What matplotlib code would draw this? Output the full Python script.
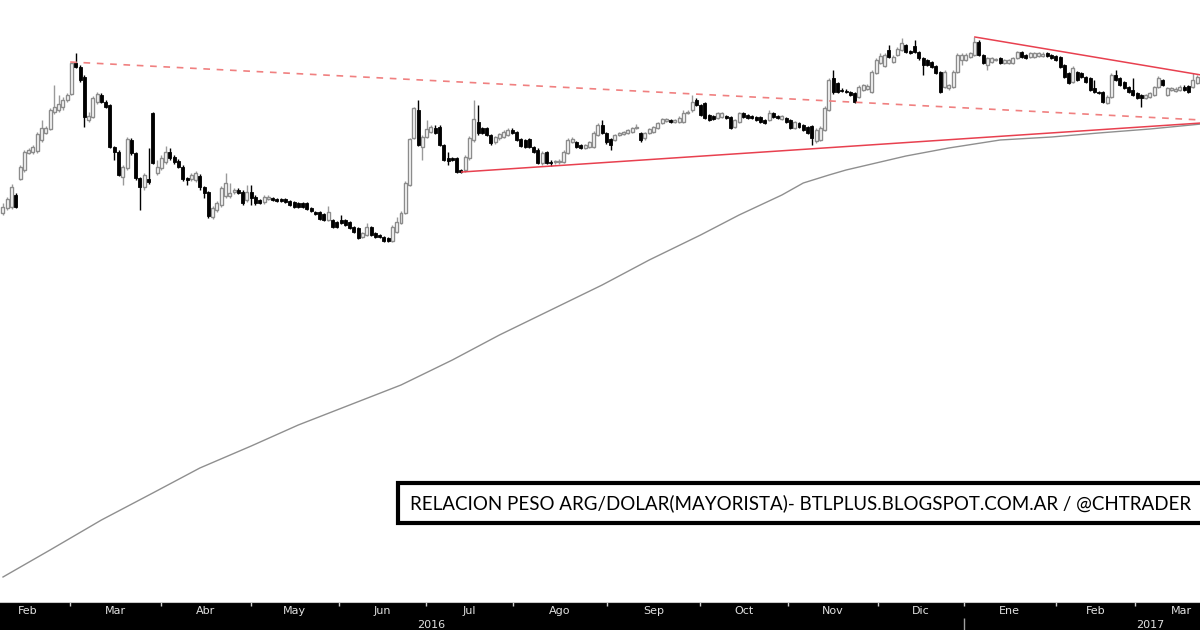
import matplotlib
matplotlib.use("Agg")
import matplotlib.pyplot as plt
from matplotlib.patches import Rectangle
import numpy as np

opens = [437,442,443,455,471,480,497,498,499,510,517,521,538,540,543,550,556,587,583,573,530,533,548,555,548,545,503,498,473,482,510,497,472,463,471,537,477,482,488,498,493,489,483,472,471,470,474,463,458,433,440,
445,454,454,458,460,458,450,458,453,450,448,451,452,451,451,451,449,448,447,447,447,442,438,438,436,430,430,428,430,430,428,423,422,413,415,423,417,415,413,412,409,418,427,437,465,512,540,503,513,518,522,523,505,492,492,492,
480,480,492,510,528,522,522,515,508,512,513,515,520,518,511,510,511,503,500,487,498,488,488,488,488,497,508,508,505,502,503,503,515,525,517,511,510,515,516,517,518,522,517,512,517,518,522,527,529,530,528,528,528,537,540,550,545,547,535,534,532,533,534,533,523,528,537,535,534,533,533,530,530,537,534,531,532,530,522,527,525,523,524,509,510,520,540,
572,567,560,559,558,557,553,560,561,558,577,587,584,600,588,595,600,605,599,604,598,592,590,588,584,578,563,562,563,578,590,590,593,595,608,595,585,588,590,592,587,587,587,592,598,595,593,593,594,594,597,595,594,593,585,577,568,578,577,573,572,562,558,558,547,553,575,572,568,563,560,557,555,552,553,555,563,570,555,560,559,560,563,564,563,567]
closes = [443,451,463,443,483,498,500,503,516,522,522,540,543,546,550,555,587,583,570,533,534,552,556,548,543,503,498,475,483,511,497,472,463,475,468,487,483,492,498,492,488,483,471,470,475,477,463,457,434,442,447,
462,467,457,460,457,447,458,452,447,447,453,453,450,449,449,448,445,443,443,443,441,439,436,431,430,438,423,423,427,425,422,418,412,417,423,415,413,413,409,409,423,428,437,467,511,542,505,513,521,523,517,505,490,489,490,478,
478,493,512,531,517,517,515,507,513,516,518,520,517,510,504,503,503,498,487,497,487,487,488.5,489,498,510,511,503,502,505,508,517,525,517,508,505,515,517,518,520,522,523,510,517,521,523,527,531,531,528,530,532,537,538,548,545,535,532,530,531,537,537,532,522,530,537,533,532,532,530,528,527,537,533,532,534,528,522,528,523,520,517,512,520,522,542,570,
558,558,559,558.5,555,548,563,565,564,578,590,594,595,593,593,601,607,598,597,598,592,585,585,583,577,558,578,565,578,595,595,595,597,608,595,587,592,592,591,587,590,590,592,598,593,592,597,597,597,596,594,592,590,583,573,567,582,570,573,568,560,558,557,548,553,575,570,565,562,558,555,552,552,555,557,563,572,565,562,562,561,563,560,558,570,573]
highs = [447,453,466,457,485,500,502,505,518,530,524,542,565,555,553,557,587,597,585,575,538,554,558,557,550,546,504,500,485,513,512,498,473,477,502,538,490,495,504,502,495,491,485,473,477,479,476,464,459,444,449,
464,477,467,462,462,460,465,465,455,451,455,455,453,452,452,452,450,449,448,448,448,443,439,439,437,444,431,429,435,431,429,424,423,418,427,424,418,416,414,413,425,433,439,469,512,543,550,515,530,525,525,525,506,498,493,493,
481,495,514,550,545,523,523,516,514,517,520,522,522,519,512,511,512,504,502,499,499,490,490,491,500,512,513,509,506,506,509,519,527,530,518,512,516,518,519,521,523,526,518,518,522,524,528,532,532,531,531,534,540,540,555,552,546,548,536,535,538,538,535,534,531,538,538,536,535,534,534,531,540,538,535,535,533,531,529,528,526,524,525,522,524,544,572,
580,568,562,561,559,558,565,566,566,580,592,597,597,605,595,603,612,606,600,610,599,593,591,589,585,579,580,566,580,597,597,597,598,613,610,596,593,593,592,593,591,591,593,599,599,596,598,598,598,598,598,596,595,594,586,578,584,579,578,574,573,570,559,559,555,577,580,573,569,564,572,558,556,556,558,564,574,571,563,563,563,565,565,565,577,575]
lows = [435,440,441,442,470,478,496,496,497,508,516,520,536,538,540,548,555,582,568,523,528,532,546,547,542,502,490,474,465,480,495,470,440,460,466,486,475,480,486,490,486,482,469,465,469,468,460,452,432,431,438,
443,452,452,456,456,445,448,445,445,446,446,450,449,448,448,447,444,442,442,442,440,438,435,430,429,429,422,422,426,424,421,417,411,412,414,414,412,412,408,408,408,417,426,436,464,511,504,490,512,517,516,504,489,485,489,477,
477,478,490,508,515,516,514,505,506,510,512,514,516,509,503,502,502,497,486,485,486,484,486,486,487,496,507,502,501,501,502,502,514,516,506,500,509,514,515,516,517,521,508,510,516,517,521,526,528,527,527,527,527,536,538,544,534,531,529,530,531,532,531,521,522,527,532,531,531,529,527,526,529,532,531,530,527,521,521,522,519,516,505,507,509,519,539,
556,557,558,557,554,547,552,559,560,557,576,586,583,592,587,594,599,597,596,597,590,575,584,582,576,557,562,560,562,577,585,589,592,594,594,586,580,587,589,586,586,586,586,591,592,591,592,592,593,593,593,591,589,582,572,566,567,569,572,567,559,557,556,547,546,552,569,564,561,557,554,551,543,551,552,554,562,564,554,559,558,559,559,557,562,566]

# long moving average (read at sparse candle indices)
ma_idx = [0, 11, 23, 35, 46, 58, 69, 81, 93, 105, 116, 128, 140, 151, 163, 172, 182, 187, 193, 197, 202, 211, 221, 233, 245, 256, 268, 280]
ma_val = [73, 100, 130, 157, 182, 204, 225, 245, 265, 290, 315, 340, 365, 390, 415, 435, 455, 467, 475, 480, 485, 494, 502, 510, 513, 517, 521, 526]

month_labels = ["Feb", "Mar", "Abr", "May", "Jun", "Jul", "Ago", "Sep", "Oct", "Nov", "Dic", "Ene", "Feb", "Mar"]
month_starts = [15.7, 36.9, 57.9, 78.5, 98.8, 119.2, 141.1, 162.9, 183.4, 204.4, 224.5, 246.0, 264.5]
year_labels = ["2016", "2017"]

dash_line = ([15.7, 280], [588, 530])
support_line = ([107.2, 280], [478, 527])
resist_line = ([227.1, 280], [613, 575])

title = "RELACION PESO ARG/DOLAR(MAYORISTA)- BTLPLUS.BLOGSPOT.COM.AR / @CHTRADER"

fig = plt.figure(figsize=(12, 6.3), dpi=100)
ax = fig.add_axes([0, 28/630, 1, 602/630])
ax.set_xlim(-0.7, 279.7)
ax.set_ylim(48, 650)
ax.axis("off")

n = len(closes)
idx = np.arange(n)
o = np.array(opens, float); c = np.array(closes, float)
h = np.array(highs, float); l = np.array(lows, float)
up = c >= o
bot = np.minimum(o, c)
hgt = np.maximum(np.abs(c - o), 1.0)
ax.vlines(idx[up], l[up], h[up], color="#9a9a9a", lw=1, zorder=2)
ax.vlines(idx[~up], l[~up], h[~up], color="black", lw=1, zorder=2)
ax.bar(idx[up], hgt[up], bottom=bot[up], width=0.7, facecolor="white", edgecolor="#8c8c8c", lw=1.0, zorder=3)
ax.bar(idx[~up], hgt[~up], bottom=bot[~up], width=0.7, facecolor="black", edgecolor="black", lw=0.6, zorder=3)

ax.plot(ma_idx, ma_val, color="#8f8f8f", lw=1, zorder=1)
ax.plot(*dash_line, color="#f08080", lw=1.2, ls=(0, (4, 4)), zorder=4)
ax.plot(*support_line, color="#e8404f", lw=1.1, zorder=4)
ax.plot(*resist_line, color="#e8404f", lw=1.1, zorder=4)

# caption box
fig.patches.append(Rectangle((398/1200, 1 - 523/630), 820/1200, 40/630, transform=fig.transFigure,
                             facecolor="white", edgecolor="black", lw=3, zorder=6))
t = fig.text(410/1200, 1 - 503/630, title, fontsize=14, family="Lato", va="center", ha="left",
             color="black", zorder=7)
fig.canvas.draw()
w = t.get_window_extent().width
t.set_fontsize(14 * 780 / w)

# bottom time axis
bx = fig.add_axes([0, 0, 1, 28/630])
bx.set_xlim(-0.7, 279.7); bx.set_ylim(0, 28)
bx.set_facecolor("black")
bx.set_xticks([]); bx.set_yticks([])
for s in bx.spines.values():
    s.set_visible(False)
bx.axhline(28, color="#c8c8c8", lw=1.5)
bounds = [-4.5] + month_starts + [283]
for i, lab in enumerate(month_labels):
    cx = (bounds[i] + bounds[i + 1]) / 2
    if i == 13:
        cx = 275.3
    if i == 0:
        cx = 5.8
    bx.text(cx, 19.5, lab, color="#e0e0e0", fontsize=8, ha="center", va="center", family="DejaVu Sans")
for ms in month_starts:
    bx.vlines(ms, 24, 28, color="#d0d0d0", lw=1)
bx.vlines(month_starts[10], 0, 12, color="#a0a0a0", lw=1)
bx.text(100, 5.5, year_labels[0], color="#e0e0e0", fontsize=8, ha="center", va="center")
bx.text(268, 5.5, year_labels[1], color="#e0e0e0", fontsize=8, ha="center", va="center")

fig.savefig("out.png", dpi=100)
